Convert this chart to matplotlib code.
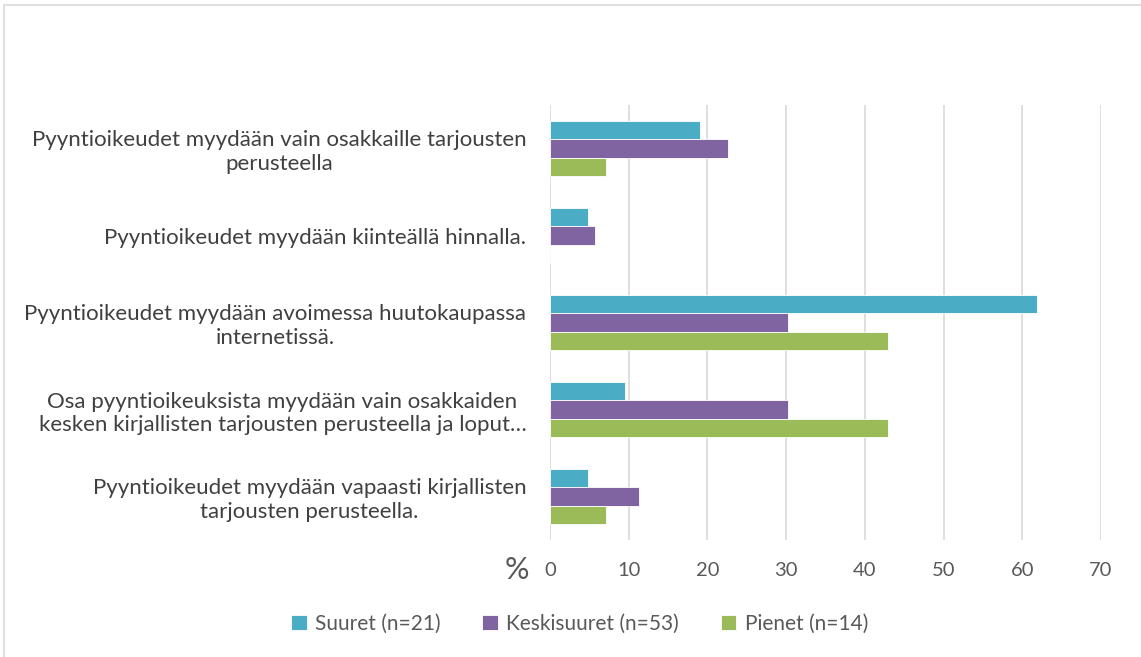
import matplotlib.pyplot as plt
import numpy as np
from matplotlib.patches import Rectangle

# Data (top-to-bottom order as in chart)
categories = [
    "Pyyntioikeudet myydään vain osakkaille tarjousten\nperusteella",
    "Pyyntioikeudet myydään kiinteällä hinnalla.",
    "Pyyntioikeudet myydään avoimessa huutokaupassa\ninternetissä.",
    "Osa pyyntioikeuksista myydään vain osakkaiden\nkesken kirjallisten tarjousten perusteella ja loput…",
    "Pyyntioikeudet myydään vapaasti kirjallisten\ntarjousten perusteella.",
]
series_names = ["Suuret (n=21)", "Keskisuuret (n=53)", "Pienet (n=14)"]
suuret = [19.0, 4.8, 61.9, 9.5, 4.8]
keskisuuret = [22.6, 5.7, 30.2, 30.2, 11.3]
pienet = [7.1, 0.0, 42.9, 42.9, 7.1]
xticks = [0, 10, 20, 30, 40, 50, 60, 70]

colors = ["#4BACC6", "#8064A2", "#9BBB59"]
values = [suuret, keskisuuret, pienet]

plt.rcParams['font.family'] = ['Lato', 'DejaVu Sans']

fig = plt.figure(figsize=(11.41, 6.57), dpi=100)
ax = fig.add_axes([550 / 1141, 1 - 540 / 657, 551 / 1141, 435 / 657])

# frame around chart
fig.patches.append(Rectangle((4 / 1141, -0.1), 1.2, 1.1 - 5 / 657,
                             transform=fig.transFigure, fill=False,
                             edgecolor="#D9D9D9", linewidth=1.2))

y = np.arange(len(categories))
h = 0.207
for i, (vals, col, name) in enumerate(zip(values, colors, series_names)):
    ax.barh(y + (i - 1) * h, vals, height=h, color=col, label=name,
            edgecolor="white", linewidth=0.6, zorder=3)

ax.set_xlim(0, 70)
ax.set_ylim(len(categories) - 0.5, -0.5)
ax.set_xticks(xticks)
ax.set_yticks(y)
ax.set_yticklabels(categories, ha="right", multialignment="center")
ax.tick_params(axis="y", length=0, pad=17, labelsize=16, labelcolor="#404040")
ax.tick_params(axis="x", length=0, pad=16, labelsize=14.5, labelcolor="#595959")
ax.grid(axis="x", color="#D9D9D9", linewidth=1.2, zorder=0)
for s in ax.spines.values():
    s.set_visible(False)

ax.text(-0.06, -0.07, "%", transform=ax.transAxes, fontsize=22,
        color="#595959", ha="center", va="center")

fig.legend(loc="center", bbox_to_anchor=(0.508, 1 - 624 / 657), ncol=3,
           frameon=False, fontsize=15, handlelength=0.75, handleheight=0.75,
           columnspacing=2.0, handletextpad=0.4, labelcolor="#595959")

fig.savefig("out.png", dpi=100)
